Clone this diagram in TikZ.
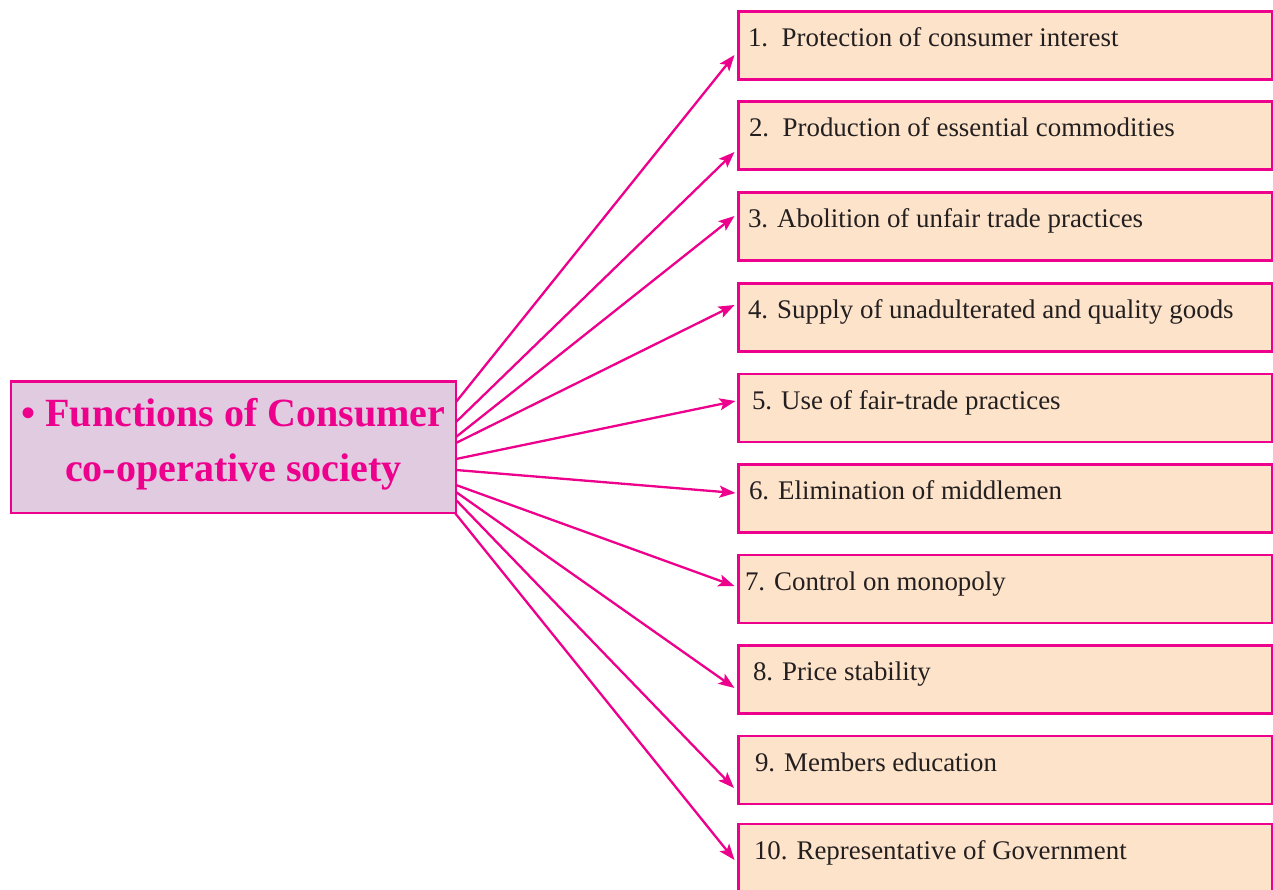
\documentclass[tikz,border=0pt]{standalone}
\usepackage{fontspec}
\setmainfont{Liberation Serif}
\usetikzlibrary{arrows.meta,calc}
\definecolor{mag}{RGB}{236,0,140}
\definecolor{lav}{RGB}{224,203,225}
\definecolor{peach}{RGB}{253,227,201}
\definecolor{ink}{RGB}{35,31,32}
\newcommand\normsp{\spaceskip=0pt\relax\xspaceskip=0pt\relax}
\begin{document}
\begin{tikzpicture}[x=1pt,y=-1pt,
  item/.style={draw=mag, line width=2.5pt, fill=peach, anchor=north west,
    minimum width=533.5pt, minimum height=68pt, inner xsep=9.5pt, inner ysep=0pt,
    text width=514.5pt, align=left, text height=35pt, text depth=33pt,
    font=\fontsize{26.9}{30}\selectfont, text=ink, outer sep=0pt},
  mainbox/.style={draw=mag, line width=2.5pt, fill=lav, minimum width=445pt,
    minimum height=131.5pt, outer sep=0pt},
  titletext/.style={font=\fontsize{40}{55}\selectfont\bfseries, text=mag, align=center},
  conn/.style={draw=mag, line width=2.3pt, -{Stealth[length=16pt,width=12pt,inset=3.5pt]}}]
\useasboundingbox (0,0) rectangle (1273,890);

\node[mainbox] (L) at (233.5,447.25) {};
\node[titletext] (T) at ($(L.center)+(0,-3)$) {\textbullet\ Functions of Consumer\\co-operative society};

\node[item] (B1) at (738.5,11.3) {\normsp 1.\hspace{0.5em}Protection of consumer interest};
\node[item] (B2) at (738.5,101.5) {\normsp\hspace*{1pt}2.\hspace{0.5em}Production of essential commodities};
\node[item] (B3) at (738.5,192.5) {\normsp 3. Abolition of unfair trade practices};
\node[item] (B4) at (738.5,283.5) {\normsp 4. Supply of unadulterated and quality goods};
\node[item] (B5) at (738.5,374) {\normsp\hspace*{4pt}5. Use of fair-trade practices};
\node[item] (B6) at (738.5,464.5) {\normsp\hspace*{1pt}6. Elimination of middlemen};
\node[item] (B7) at (738.5,555) {\normsp\hspace*{-3pt}7. Control on monopoly};
\node[item] (B8) at (738.5,645.5) {\normsp\hspace*{5pt}8. Price stability};
\node[item] (B9) at (738.5,736) {\normsp\hspace*{7pt}9. Members education};
\node[item] (B10) at (738.5,824) {\normsp\hspace*{6pt}10. Representative of Government};

\draw[conn] ($(L.north east)+(0,20.5)$) -- ($(B1.west)+(-4,9.7)$);
\draw[conn] ($(L.north east)+(0,40.5)$) -- ($(B2.west)+(-4,16.5)$);
\draw[conn] ($(L.north east)+(0,55.5)$) -- ($(B3.west)+(-4,-10.5)$);
\draw[conn] ($(L.north east)+(0,61.5)$) -- ($(B4.west)+(-4,-12.5)$);
\draw[conn] ($(L.north east)+(0,77.5)$) -- ($(B5.west)+(-3,-7)$);
\draw[conn] ($(L.north east)+(0,88.5)$) -- ($(B6.west)+(-3,-5.5)$);
\draw[conn] ($(L.north east)+(0,103.5)$) -- ($(B7.west)+(-4,-3)$);
\draw[conn] ($(L.north east)+(0,110.5)$) -- ($(B8.west)+(-4,8.5)$);
\draw[conn] ($(L.north east)+(0,118.5)$) -- ($(B9.west)+(-4.5,18)$);
\draw[conn] ($(L.south east)+(-1,0)$) -- ($(B10.west)+(-4,2)$);
\end{tikzpicture}
\end{document}
